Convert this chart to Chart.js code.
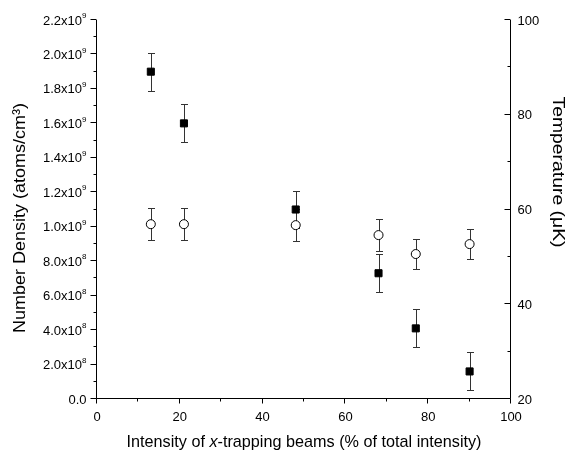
<!DOCTYPE html>
<html>
<head>
<meta charset="utf-8">
<script src="https://cdn.jsdelivr.net/npm/chart.js@4.4.1/dist/chart.umd.min.js"></script>
<style>
  html, body { margin: 0; padding: 0; background: #fff; }
  #wrap { width: 570px; height: 455px; }
</style>
</head>
<body>
<div id="wrap"><canvas id="c" width="570" height="455"></canvas></div>
<script>
// ---- data ----
const intensity = [13, 21, 48, 68, 77, 90];                        // % of total intensity
const density = [1.90e9, 1.60e9, 1.10e9, 0.73e9, 0.41e9, 0.16e9];  // atoms/cm^3
const densityErr = [0.11e9, 0.11e9, 0.11e9, 0.11e9, 0.11e9, 0.11e9];
const temperature = [56.9, 56.9, 56.7, 54.6, 50.6, 52.7];           // µK
const temperatureErr = [3.4, 3.4, 3.4, 3.3, 3.1, 3.2];

// ---- tick labels ----
const xTickValues = [0, 20, 40, 60, 80, 100];
const xTickLabels = ['0', '20', '40', '60', '80', '100'];
const leftTickValues = [0, 0.2e9, 0.4e9, 0.6e9, 0.8e9, 1.0e9, 1.2e9, 1.4e9, 1.6e9, 1.8e9, 2.0e9, 2.2e9];
const leftTickMantissa = ['0.0', '2.0', '4.0', '6.0', '8.0', '1.0', '1.2', '1.4', '1.6', '1.8', '2.0', '2.2'];
const leftTickExponent = ['', '8', '8', '8', '8', '9', '9', '9', '9', '9', '9', '9'];
const rightTickValues = [20, 40, 60, 80, 100];
const rightTickLabels = ['20', '40', '60', '80', '100'];

const xTitleParts = [['Intensity of ', 'normal'], ['x', 'italic'], ['-trapping beams (% of total intensity)', 'normal']];
const leftTitle = 'Number Density (atoms/cm³)';
const rightTitle = 'Temperature (\u03BCK)';

const FONT = '"Liberation Sans", Arial, sans-serif';

const pts = (xs, ys) => xs.map((x, i) => ({ x: x, y: ys[i] }));

const errorBarPlugin = {
  id: 'errorBars',
  beforeDatasetsDraw(chart) {
    const ctx = chart.ctx;
    const xs = chart.scales.x;
    ctx.save();
    ctx.strokeStyle = '#333';
    ctx.lineWidth = 1;
    chart.data.datasets.forEach(ds => {
      const ys = chart.scales[ds.yAxisID];
      ds.errors.forEach((e, i) => {
        const p = ds.data[i];
        const px = Math.round(xs.getPixelForValue(p.x)) + 0.5;
        const top = Math.round(ys.getPixelForValue(p.y + e)) + 0.5;
        const bot = Math.round(ys.getPixelForValue(p.y - e)) + 0.5;
        ctx.beginPath();
        ctx.moveTo(px, top); ctx.lineTo(px, bot);
        ctx.moveTo(px - 3.5, top); ctx.lineTo(px + 3.5, top);
        ctx.moveTo(px - 3.5, bot); ctx.lineTo(px + 3.5, bot);
        ctx.stroke();
      });
    });
    ctx.restore();
  }
};

function fitText(ctx, text, cx, cy, rot, targetLen, fontPx) {
  ctx.save();
  ctx.font = fontPx + 'px ' + FONT;
  const w = ctx.measureText(text).width;
  ctx.translate(cx, cy);
  ctx.rotate(rot);
  ctx.scale(targetLen / w, 1);
  ctx.textAlign = 'center';
  ctx.textBaseline = 'middle';
  ctx.fillText(text, 0, 0);
  ctx.restore();
}

const axesPlugin = {
  id: 'axesDecor',
  afterDraw(chart) {
    const ctx = chart.ctx;
    const xs = chart.scales.x, yl = chart.scales.y, yr = chart.scales.y1;
    const ca = chart.chartArea;
    const L = Math.round(ca.left) - 0.5, R = Math.round(ca.right) - 0.5, B = Math.round(ca.bottom) - 0.5;
    ctx.save();
    ctx.strokeStyle = '#000';
    ctx.fillStyle = '#000';
    ctx.lineWidth = 1;
    // axis lines
    ctx.beginPath();
    ctx.moveTo(L, Math.round(ca.top)); ctx.lineTo(L, B);
    ctx.lineTo(R, B);
    ctx.moveTo(R, Math.round(ca.top)); ctx.lineTo(R, B);
    ctx.stroke();
    // ticks
    ctx.beginPath();
    for (let v = 0; v <= 100.001; v += 10) {
      const px = Math.round(xs.getPixelForValue(v)) - 0.5;
      const len = (Math.round(v) % 20 === 0) ? 5 : 3;
      ctx.moveTo(px, B); ctx.lineTo(px, B + len);
    }
    for (let k = 0; k <= 22; k++) {
      const py = Math.round(yl.getPixelForValue(k * 0.1e9)) - 0.5;
      const len = (k % 2 === 0) ? 6 : 3;
      ctx.moveTo(L, py); ctx.lineTo(L - len, py);
    }
    for (let v = 20; v <= 100.001; v += 10) {
      const py = Math.round(yr.getPixelForValue(v)) - 0.5;
      const len = (Math.round(v) % 20 === 0) ? 6 : 3;
      ctx.moveTo(R, py); ctx.lineTo(R - len, py);
    }
    ctx.stroke();

    // x tick labels
    ctx.font = '13px ' + FONT;
    ctx.textAlign = 'center';
    ctx.textBaseline = 'middle';
    xTickValues.forEach((v, i) => {
      ctx.fillText(xTickLabels[i], xs.getPixelForValue(v), 417);
    });
    // right tick labels
    ctx.textAlign = 'left';
    rightTickValues.forEach((v, i) => {
      ctx.fillText(rightTickLabels[i], R + 7, yr.getPixelForValue(v) + 1);
    });
    // left tick labels with superscript exponent
    const rightEdge = L - 10;
    leftTickValues.forEach((v, i) => {
      const py = yl.getPixelForValue(v) + 1;
      const exp = leftTickExponent[i];
      ctx.font = '8px ' + FONT;
      const supW = exp ? ctx.measureText(exp).width : 0;
      ctx.font = '13px ' + FONT;
      ctx.textAlign = 'right';
      ctx.fillText(leftTickMantissa[i] + (exp ? 'x10' : ''), rightEdge - supW, py);
      if (exp) {
        ctx.font = '8px ' + FONT;
        ctx.textAlign = 'left';
        ctx.fillText(exp, rightEdge - supW, py - 5);
      }
    });

    // axis titles
    fitText(ctx, leftTitle, 20, 218, -Math.PI / 2, 230, 17);
    fitText(ctx, rightTitle, 558, 172, Math.PI / 2, 151, 17);

    // x title with italic x
    ctx.save();
    let total = 0;
    const widths = xTitleParts.map(([t, st]) => {
      ctx.font = st + ' 17px ' + FONT;
      const w = ctx.measureText(t).width;
      total += w;
      return w;
    });
    const target = 355;
    const sx = target / total;
    const cx = (ca.left + ca.right) / 2;
    ctx.translate(cx - target / 2, 442);
    ctx.scale(sx, 1);
    ctx.textAlign = 'left';
    ctx.textBaseline = 'middle';
    let xpos = 0;
    xTitleParts.forEach(([t, st], i) => {
      ctx.font = st + ' 17px ' + FONT;
      ctx.fillText(t, xpos, 0);
      xpos += widths[i];
    });
    ctx.restore();
    ctx.restore();
  }
};

new Chart(document.getElementById('c'), {
  type: 'scatter',
  data: {
    datasets: [
      {
        label: 'Number density',
        data: pts(intensity, density),
        errors: densityErr,
        yAxisID: 'y',
        pointStyle: 'rect',
        pointRadius: 5,
        pointBackgroundColor: '#000',
        pointBorderColor: '#000',
        pointBorderWidth: 1,
        showLine: false
      },
      {
        label: 'Temperature',
        data: pts(intensity, temperature),
        errors: temperatureErr,
        yAxisID: 'y1',
        pointStyle: 'circle',
        pointRadius: 4.5,
        pointBackgroundColor: '#fff',
        pointBorderColor: '#000',
        pointBorderWidth: 1,
        showLine: false
      }
    ]
  },
  options: {
    responsive: false,
    animation: false,
    events: [],
    layout: { padding: { top: 20, left: 0, right: 0, bottom: 0 } },
    plugins: { legend: { display: false }, tooltip: { enabled: false }, title: { display: false } },
    scales: {
      x: {
        type: 'linear', min: 0, max: 100,
        grid: { display: false }, border: { display: false },
        ticks: { display: false, stepSize: 20 },
        afterFit: s => { s.height = 56; }
      },
      y: {
        type: 'linear', position: 'left', min: 0, max: 2.2e9,
        grid: { display: false }, border: { display: false },
        ticks: { display: false, stepSize: 0.2e9 },
        afterFit: s => { s.width = 97; }
      },
      y1: {
        type: 'linear', position: 'right', min: 20, max: 100,
        grid: { display: false }, border: { display: false },
        ticks: { display: false, stepSize: 20 },
        afterFit: s => { s.width = 59; }
      }
    }
  },
  plugins: [errorBarPlugin, axesPlugin]
});
</script>
</body>
</html>
